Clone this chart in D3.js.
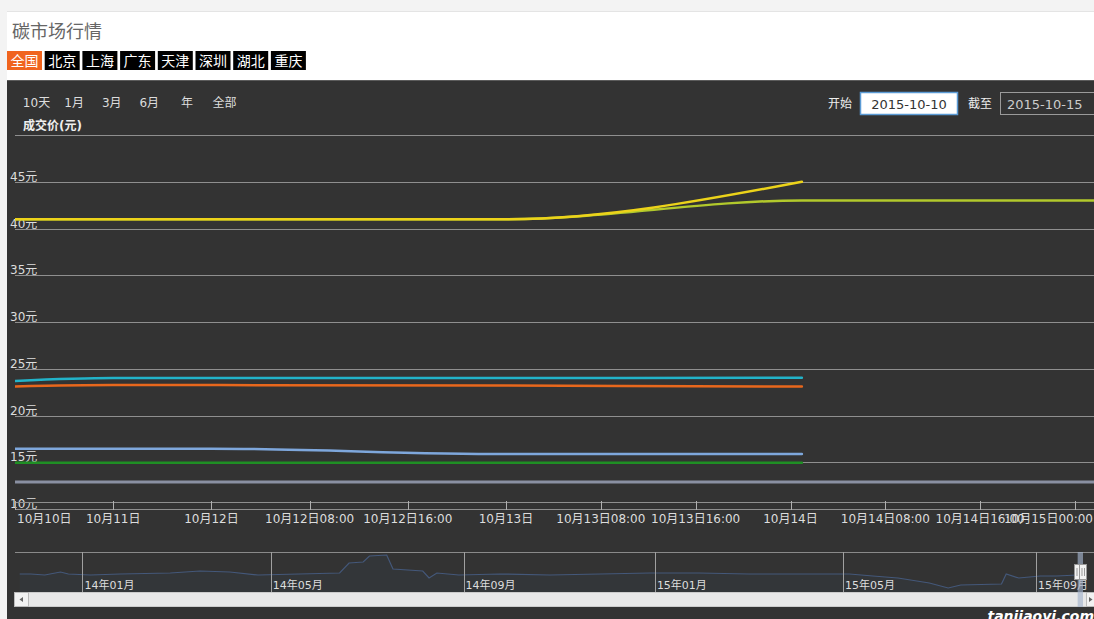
<!DOCTYPE html>
<html><head><meta charset="utf-8">
<script src="https://cdn.jsdelivr.net/npm/d3@7"></script>
<style>
html,body{margin:0;padding:0;background:#f3f3f3;overflow:hidden;}
svg{display:block;}
text{font-family:'DejaVu Sans','Noto Sans CJK SC',sans-serif;}
</style></head><body>
<svg id="c" width="1094" height="619"></svg>
<script>
// ---------- data ----------
const title = '碳市场行情';
const tabs = ['全国','北京','上海','广东','天津','深圳','湖北','重庆'];
const activeTab = '全国';
const rangeButtons = ['10天','1月','3月','6月','年','全部'];
const rangeStart = '2015-10-10';
const rangeEnd = '2015-10-15';
const yAxisTitle = '成交价(元)';
const yTicks = [10,15,20,25,30,35,40,45,50];
const yLabelTicks = [10,15,20,25,30,35,40,45];
const xTickLabels = ['10月10日','10月11日','10月12日','10月12日08:00','10月12日16:00','10月13日',
  '10月13日08:00','10月13日16:00','10月14日','10月14日08:00','10月14日16:00','10月15日00:00'];
// x positions are ordinal axis slots (one slot per tick)
const slotsShort = [0, 1, 2, 5, 8.12];
const slotsLong  = [0, 1, 2, 5, 8.12, 11.6];
const seriesGrey      = [12.9, 12.9, 12.9, 12.9, 12.9, 12.9];
const seriesGreen     = [14.95, 14.95, 14.95, 14.95, 14.95];
const seriesLightBlue = [16.45, 16.45, 16.45, 15.87, 15.87];
const seriesOrange    = [23.1, 23.25, 23.25, 23.2, 23.1];
const seriesCyan      = [23.7, 24.0, 24.0, 24.0, 24.05];
const seriesLime      = [41.0, 41.0, 41.0, 41.0, 43.0, 43.0];
const seriesYellow    = [41.0, 41.0, 41.0, 41.0, 45.0];
// navigator (whole history)
const navDates = ['2013-11-22','2013-11-29','2013-12-08','2013-12-18','2013-12-23','2014-01-06','2014-01-25',
  '2014-02-26','2014-03-17','2014-04-05','2014-04-23','2014-05-19','2014-06-14','2014-06-20','2014-06-29',
  '2014-07-03','2014-07-14','2014-07-18','2014-08-06','2014-08-10','2014-08-15','2014-08-29','2014-09-24',
  '2014-10-26','2014-11-27','2014-12-29','2015-01-29','2015-03-02','2015-04-03','2015-05-05','2015-05-20',
  '2015-06-05','2015-06-25','2015-07-07','2015-07-15','2015-08-10','2015-08-13','2015-08-21','2015-09-05',
  '2015-09-20','2015-10-10','2015-10-15'];
const navValues = [38,38,37,40,38,37,38,39,41,40,37,38,39,49,50,56,57,43,41,34,39,37,38,37,38,39,39,38,38,38,36,
  34,29,24,27,28,38,34,36,36,37,37];
const navMonthTicks = ['2014-01-01','2014-05-01','2014-09-01','2015-01-01','2015-05-01','2015-09-01'];

// ---------- layout ----------
const W = 1094, H = 619;
const plotLeft = 15, plotRight = 1094, plotTop = 80, plotBottom = 509;
const svg = d3.select('#c');
const parse = d3.timeParse('%Y-%m-%d');

// page
svg.append('rect').attr('x',0).attr('y',0).attr('width',W).attr('height',H).attr('fill','#f3f3f3');
svg.append('rect').attr('x',7).attr('y',12).attr('width',W-7).attr('height',H-12).attr('fill','#ffffff');
svg.append('line').attr('x1',7).attr('x2',W).attr('y1',11.5).attr('y2',11.5).attr('stroke','#e4e4e4');
svg.append('text').attr('x',12).attr('y',38).attr('font-size',18).attr('fill','#666')
  .style('font-family',"'Noto Sans CJK SC',sans-serif").text(title);

// tabs
const tabG = svg.append('g').selectAll('g').data(tabs).join('g')
  .attr('transform',(d,i)=>`translate(${7 + i*37.7},51)`);
tabG.append('rect').attr('width',35).attr('height',19).attr('fill',d=>d===activeTab?'#f0641e':'#000');
tabG.append('text').attr('x',17.5).attr('y',15).attr('text-anchor','middle').attr('font-size',14)
  .attr('fill','#fff').style('font-family',"'Noto Sans CJK SC',sans-serif").text(d=>d);

// dark chart area
svg.append('rect').attr('x',7).attr('y',80).attr('width',W-7).attr('height',H-80).attr('fill','#333333');
svg.append('line').attr('x1',7).attr('x2',W).attr('y1',80.5).attr('y2',80.5).attr('stroke','#5c5c5c');

// range selector buttons
svg.append('g').selectAll('text').data(rangeButtons).join('text')
  .attr('x',(d,i)=>36.5 + i*37.6).attr('y',107).attr('text-anchor','middle')
  .attr('font-size',12).attr('fill','#dddddd').text(d=>d);

// date inputs
svg.append('text').attr('x',828).attr('y',108).attr('font-size',12).attr('fill','#eeeeee').text('开始');
svg.append('rect').attr('x',860.5).attr('y',92.5).attr('width',97).attr('height',22)
  .attr('fill','#ffffff').attr('stroke','#5b9bd5').attr('stroke-width',1.5);
svg.append('text').attr('x',909).attr('y',108.5).attr('text-anchor','middle').attr('font-size',13)
  .attr('fill','#333').text(rangeStart);
svg.append('text').attr('x',968).attr('y',108).attr('font-size',12).attr('fill','#eeeeee').text('截至');
svg.append('rect').attr('x',1000.5).attr('y',92.5).attr('width',100).attr('height',22)
  .attr('fill','none').attr('stroke','#9a9a9a');
svg.append('text').attr('x',1007).attr('y',108.5).attr('font-size',13).attr('fill','#cccccc').text(rangeEnd);

// y axis title
svg.append('text').attr('x',23).attr('y',130).attr('font-size',12).attr('font-weight','bold')
  .attr('fill','#eeeeee').text(yAxisTitle);

// scales
const y = d3.scaleLinear().domain([10,50]).range([plotBottom,135]);
const x = d3.scaleLinear().domain([0,5,11]).range([plotLeft,506,1075]);

// gridlines
svg.append('g').selectAll('line').data(yTicks).join('line')
  .attr('x1',plotLeft).attr('x2',plotRight).attr('y1',d=>Math.round(y(d))+0.5).attr('y2',d=>Math.round(y(d))+0.5)
  .attr('stroke','#8f8f8f');
svg.append('g').selectAll('text').data(yLabelTicks).join('text')
  .attr('x',10).attr('y',d=>y(d)-1).attr('font-size',12).attr('fill','#dddddd').text(d=>d+'元');

// x axis
svg.append('line').attr('x1',plotLeft).attr('x2',plotRight).attr('y1',502.5).attr('y2',502.5).attr('stroke','#8f8f8f');
svg.append('g').selectAll('line').data(xTickLabels).join('line')
  .attr('x1',(d,i)=>Math.round(x(i))+0.5).attr('x2',(d,i)=>Math.round(x(i))+0.5)
  .attr('y1',501).attr('y2',510).attr('stroke','#b0b0b0');
const xl = svg.append('g').selectAll('text').data(xTickLabels).join('text')
  .attr('x',(d,i)=>x(i)).attr('y',523).attr('text-anchor','middle')
  .attr('font-size',12).attr('fill','#dddddd').text(d=>d);
xl.each(function(d,i){
  const w = this.getComputedTextLength();
  const cx = x(i);
  if (cx - w/2 < plotLeft) d3.select(this).attr('text-anchor','start').attr('x',plotLeft+2);
  else if (cx + w/2 > W) d3.select(this).attr('text-anchor','end').attr('x',W-1);
});

// series
svg.append('clipPath').attr('id','pc').append('rect')
  .attr('x',plotLeft).attr('y',plotTop).attr('width',plotRight-plotLeft).attr('height',plotBottom-plotTop);
const series = [
  {slots:slotsLong, vals:seriesGrey, color:'#8a90a2', w:3},
  {slots:slotsShort, vals:seriesGreen, color:'#1f8f24', w:2.5},
  {slots:slotsShort, vals:seriesLightBlue, color:'#7ea7dc', w:2.5},
  {slots:slotsShort, vals:seriesOrange, color:'#e8671c', w:2.5},
  {slots:slotsShort, vals:seriesCyan, color:'#22b3c9', w:2.5},
  {slots:slotsLong, vals:seriesLime, color:'#b2c92c', w:2.5},
  {slots:slotsShort, vals:seriesYellow, color:'#ecd31a', w:2.5}
];
const line = d3.line().x(d=>x(d[0])).y(d=>y(d[1])).curve(d3.curveMonotoneX);
svg.append('g').attr('clip-path','url(#pc)').selectAll('path').data(series).join('path')
  .attr('d',s=>line(s.slots.map((t,i)=>[t,s.vals[i]])))
  .attr('fill','none').attr('stroke',s=>s.color).attr('stroke-width',s=>s.w)
  .attr('stroke-linejoin','round').attr('stroke-linecap','round');

// navigator
const navTop = 552, navBottom = 592;
const navX = d3.scaleTime()
  .domain([parse('2013-11-19'), parse('2015-09-01'), parse('2015-10-15')])
  .range([plotLeft, 1036, 1083]);
const navY = d3.scaleLinear().domain([20,60]).range([navBottom,navTop]);
svg.append('line').attr('x1',plotLeft).attr('x2',W).attr('y1',navTop+0.5).attr('y2',navTop+0.5).attr('stroke','#8a8a8a');
const navPts = navDates.map((d,i)=>[parse(d), navValues[i]]);
svg.append('path').attr('d', d3.area().x(d=>navX(d[0])).y0(navBottom).y1(d=>navY(d[1]))(navPts))
  .attr('fill','rgba(60,80,110,0.12)');
svg.append('path').attr('d', d3.line().x(d=>navX(d[0])).y(d=>navY(d[1]))(navPts))
  .attr('fill','none').attr('stroke','#44587a').attr('stroke-width',1.2);
const fmtNav = d3.timeFormat('%y年%m月');
svg.append('g').selectAll('line').data(navMonthTicks).join('line')
  .attr('x1',d=>Math.round(navX(parse(d)))+0.5).attr('x2',d=>Math.round(navX(parse(d)))+0.5)
  .attr('y1',navTop).attr('y2',navBottom).attr('stroke','#a0a0a0');
svg.append('g').selectAll('text').data(navMonthTicks).join('text')
  .attr('x',d=>navX(parse(d))+2).attr('y',589).attr('font-size',11).attr('fill','#dddddd')
  .text(d=>fmtNav(parse(d)));

// scrollbar
svg.append('rect').attr('x',14.5).attr('y',592.5).attr('width',W-14).attr('height',14)
  .attr('fill','#e8e8e8').attr('stroke','#cccccc');
svg.append('rect').attr('x',14.5).attr('y',592.5).attr('width',14).attr('height',14)
  .attr('fill','#f2f2f2').attr('stroke','#bbbbbb');
svg.append('path').attr('d','M19.5,599.5 L23,597 L23,602 Z').attr('fill','#666');
svg.append('rect').attr('x',1086.5).attr('y',592.5).attr('width',14).attr('height',14)
  .attr('fill','#f2f2f2').attr('stroke','#bbbbbb');
svg.append('path').attr('d','M1092.5,599.5 L1089,597 L1089,602 Z').attr('fill','#666');

// selected range
const s0 = navX(parse(rangeStart)), s1 = navX(parse(rangeEnd));
svg.append('rect').attr('x',s0).attr('y',navTop).attr('width',Math.max(1,s1-s0)).attr('height',607-navTop)
  .attr('fill','rgba(165,180,205,0.65)');
[s0, s1].forEach(sx=>{
  svg.append('rect').attr('x',Math.round(sx)-3.5).attr('y',564.5).attr('width',7).attr('height',15)
    .attr('fill','#f2f2f2').attr('stroke','#999');
  svg.append('line').attr('x1',Math.round(sx)-1).attr('x2',Math.round(sx)-1).attr('y1',568).attr('y2',576).attr('stroke','#999');
  svg.append('line').attr('x1',Math.round(sx)+1.5).attr('x2',Math.round(sx)+1.5).attr('y1',568).attr('y2',576).attr('stroke','#999');
});

// watermark
svg.append('text').attr('x',W).attr('y',621).attr('text-anchor','end').attr('font-size',14)
  .attr('font-weight','bold').attr('font-style','italic').attr('fill','#ffffff').text('tanjiaoyi.com');
</script>
</body></html>
